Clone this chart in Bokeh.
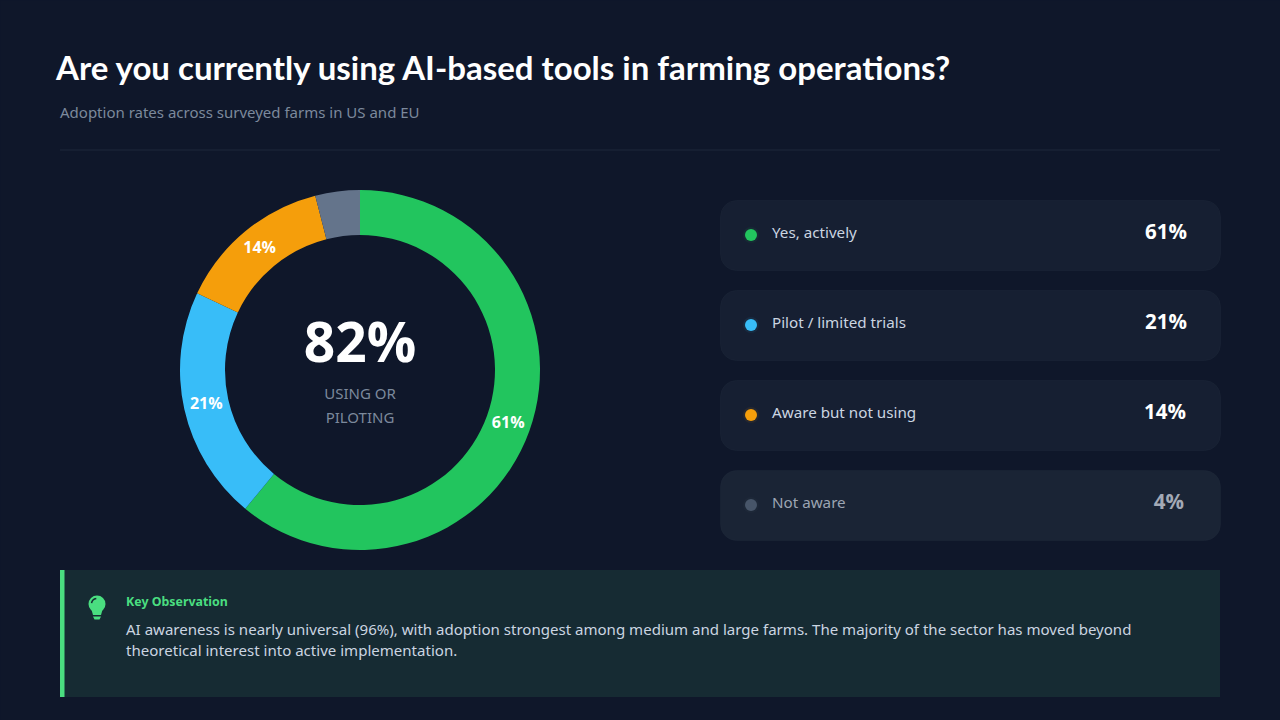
import math
from bokeh.plotting import figure
from bokeh.models import Range1d, BoxAnnotation
from bokeh.core.properties import value
from bokeh.embed import file_html
from bokeh.resources import INLINE

# ---- data ----
categories = ["Yes, actively", "Pilot / limited trials", "Aware but not using", "Not aware"]
values = [61, 21, 14, 4]
value_labels = ["61%", "21%", "14%", "4%"]
ring_colors = ["#22c55e", "#38bdf8", "#f59e0b", "#64748b"]
dot_colors = ["#22c55e", "#38bdf8", "#f59e0b", "#475569"]
ring_labels_shown = [True, True, True, False]

title = "Are you currently using AI-based tools in farming operations?"
subtitle = "Adoption rates across surveyed farms in US and EU"
center_value = "82%"
center_lines = ["USING OR", "PILOTING"]
note_head = "Key Observation"
note_lines = [
    "AI awareness is nearly universal (96%), with adoption strongest among medium and large farms. The majority of the sector has moved beyond",
    "theoretical interest into active implementation.",
]

BG = "#0f172a"
W, H = 1280, 720
def Y(py):
    return H - py

p = figure(width=W, height=H, output_backend="svg", toolbar_location=None,
           x_range=Range1d(0.5, W + 0.5), y_range=Range1d(-0.5, H - 0.5),
           background_fill_color=BG, border_fill_color=BG, outline_line_color=None,
           min_border=0)
p.axis.visible = False
p.grid.visible = False

def txt(x, y, s, size, color, font="Open Sans", style="normal", align="left", alpha=1.0):
    # y is the wanted centre line of the text
    p.text([x], [Y(y)], text=[s], text_font=value(font), text_font_size=f"{size}px",
           text_font_style=style, text_color=color, text_align=align,
           text_baseline="middle", text_alpha=alpha)

# header
txt(56, 66.5, title, 33, "#ffffff", font="Lato", style="bold")
txt(60, 111.5, subtitle, 15, "#7c899c", font="Noto Sans")
p.line([60, 1220], [Y(150), Y(150)], line_color="#1e293b", line_width=1)

# donut
CX, CY = 360, 370
R_OUT, R_IN = 180, 135
total = sum(values)
cum = 0
for v, c in zip(values, ring_colors):
    a0 = math.pi / 2 - 2 * math.pi * cum / total
    a1 = math.pi / 2 - 2 * math.pi * (cum + v) / total
    p.annular_wedge([CX], [Y(CY)], inner_radius=R_IN, outer_radius=R_OUT, start_angle=a0, end_angle=a1,
                    direction="clock", fill_color=c, line_color=None)
    cum += v
cum = 0
for v, show, lab in zip(values, ring_labels_shown, value_labels):
    mid = 2 * math.pi * (cum + v / 2) / total
    cum += v
    if show:
        r = (R_IN + R_OUT) / 2
        lx = CX + r * math.sin(mid)
        ly = CY - r * math.cos(mid)
        txt(lx, ly - 1.5, lab, 16, "#ffffff", style="bold", align="center")

txt(360, 340.5, center_value, 55, "#ffffff", style="bold", align="center")
txt(360, 392.5, center_lines[0], 15, "#7c899c", font="Noto Sans", align="center")
txt(360, 416.5, center_lines[1], 15, "#7c899c", font="Noto Sans", align="center")

# legend cards
tops = [200, 290, 380, 470]
card_fill = ["#161f32", "#161f32", "#161f32", "#1a2435"]
label_color = ["#cbd5e1", "#cbd5e1", "#cbd5e1", "#9ca5b3"]
val_color = ["#ffffff", "#ffffff", "#ffffff", "#a3a9b5"]
val_right = [1187, 1187, 1186, 1184]
for i, t in enumerate(tops):
    p.add_layout(BoxAnnotation(left=720.5, right=1220.5, top=Y(t + 0.5), bottom=Y(t + 70.5),
                               border_radius=16, fill_color=card_fill[i], fill_alpha=1,
                               line_color="#232d40", line_width=1, level="underlay"))
    p.scatter([751], [Y(t + 35)], size=16, marker="circle", fill_color=dot_colors[i], fill_alpha=0.08, line_color=None)
    p.scatter([751], [Y(t + 35)], size=12, marker="circle", fill_color=dot_colors[i], line_color=None)
    txt(772, t + 31.5, categories[i], 15.2, label_color[i], font="Noto Sans")
    txt(val_right[i], t + 30.5, value_labels[i], 20.5, val_color[i], style="bold", align="right")

# callout
p.add_layout(BoxAnnotation(left=60, right=1220, top=Y(570), bottom=Y(697), fill_color="#162b33", fill_alpha=1,
                           line_color=None, level="underlay"))
p.add_layout(BoxAnnotation(left=60, right=64.5, top=Y(570), bottom=Y(697), fill_color="#4ade80", fill_alpha=1,
                           line_color=None, level="underlay"))
# bulb icon
GREEN = "#4ade80"
p.scatter([97], [Y(604)], size=17, marker="circle", fill_color=GREEN, line_color=None)
p.patch([91, 103, 101, 93], [Y(608), Y(608), Y(615), Y(615)], fill_color=GREEN, line_color=None)
p.patch([93, 101, 99.5, 94.5], [Y(616.5), Y(616.5), Y(619.5), Y(619.5)], fill_color=GREEN, line_color=None)
p.arc([97], [Y(604)], radius=5.5, start_angle=1.7, end_angle=3.0, line_color="#162b33", line_width=1.5)

txt(126, 601.5, note_head, 12.4, GREEN, font="Noto Sans", style="bold")
txt(126, 628.5, note_lines[0], 15.05, "#cbd5e1", font="Noto Sans")
txt(126, 649.5, note_lines[1], 15.05, "#cbd5e1", font="Noto Sans")

html = file_html(p, INLINE)
html = html.replace("</head>", f"<style>html,body{{background:{BG};}}</style></head>", 1)
open("out.html", "w").write(html)
